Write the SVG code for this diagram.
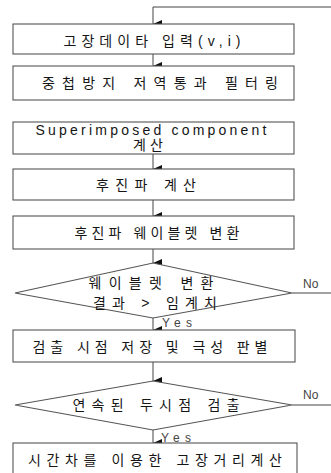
<svg xmlns="http://www.w3.org/2000/svg" width="331" height="473" viewBox="0 0 331 473">
<defs>
<marker id="ah" markerWidth="8" markerHeight="9" refX="4" refY="9" orient="auto-start-reverse" markerUnits="userSpaceOnUse" viewBox="0 0 8 9">
<path d="M0,0 L8,0 L4,9 Z" fill="#111"/>
</marker>
<style>
.box{fill:#fff;stroke:#555;stroke-width:1.1}
.t{font-family:"Liberation Sans","Noto Sans CJK KR",sans-serif;font-size:14px;fill:#151515;text-anchor:middle}
.s{font-family:"Liberation Sans","Noto Sans CJK KR",sans-serif;font-size:12px;fill:#444}
.c{fill:none;stroke:#444;stroke-width:1}
</style>
</defs>
<rect width="331" height="473" fill="#fff"/>
<g id="connectors">
<path class="c" d="M331,7 H153 V24" marker-end="url(#ah)"/>
<path class="c" d="M153,54 V66" marker-end="url(#ah)"/>
<path class="c" d="M153,154 V169" marker-end="url(#ah)"/>
<path class="c" d="M153,200 V216" marker-end="url(#ah)"/>
<path class="c" d="M153,249 V263" marker-end="url(#ah)"/>
<path class="c" d="M153,318 V330" marker-end="url(#ah)"/>
<path class="c" d="M292,293 H331"/>
<path class="c" d="M153,362 V381" marker-end="url(#ah)"/>
<path class="c" d="M153,430 V443" marker-end="url(#ah)"/>
<path class="c" d="M292,405 H331"/>
</g>
<g id="n1"><rect class="box" x="13" y="24" width="281" height="30"/><text class="t" x="152" y="46" textLength="177" lengthAdjust="spacing">고장데이타 입력(v,i)</text></g>
<g id="n2"><rect class="box" x="13" y="66" width="281" height="34"/><text class="t" x="160" y="88" textLength="236" lengthAdjust="spacing">중첩방지 저역통과 필터링</text></g>
<g id="n3"><rect class="box" x="13" y="122" width="281" height="32"/><text class="t" x="151" y="135" textLength="231" lengthAdjust="spacing">Superimposed component</text><text class="t" x="148" y="150" textLength="30" lengthAdjust="spacing">계산</text></g>
<g id="n4"><rect class="box" x="13" y="169" width="281" height="31"/><text class="t" x="146" y="190" textLength="100" lengthAdjust="spacing">후진파 계산</text></g>
<g id="n5"><rect class="box" x="13" y="216" width="281" height="33"/><text class="t" x="157" y="238" textLength="165" lengthAdjust="spacing">후진파 웨이블렛 변환</text></g>
<g id="d1"><path class="box" d="M15,293 L153,263 L292,293 L153,318 Z"/><text class="t" x="151" y="288" textLength="125" lengthAdjust="spacing">웨이블렛 변환</text><text class="t" x="155" y="308" textLength="124" lengthAdjust="spacing">결과 &gt; 임계치</text><text class="s" x="303" y="288">No</text><text class="s" x="162" y="327" textLength="30" lengthAdjust="spacing">Yes</text></g>
<g id="n6"><rect class="box" x="13" y="330" width="282" height="32"/><text class="t" x="150" y="352" textLength="235" lengthAdjust="spacing">검출 시점 저장 및 극성 판별</text></g>
<g id="d2"><path class="box" d="M15,405 L153,381 L292,405 L153,430 Z"/><text class="t" x="156" y="410" textLength="167" lengthAdjust="spacing">연속된 두시점 검출</text><text class="s" x="303" y="399">No</text><text class="s" x="161" y="442" textLength="30" lengthAdjust="spacing">Yes</text></g>
<g id="n7"><rect class="box" x="13" y="443" width="284" height="40"/><text class="t" x="155" y="465" textLength="254" lengthAdjust="spacing">시간차를 이용한 고장거리계산</text></g>
</svg>
